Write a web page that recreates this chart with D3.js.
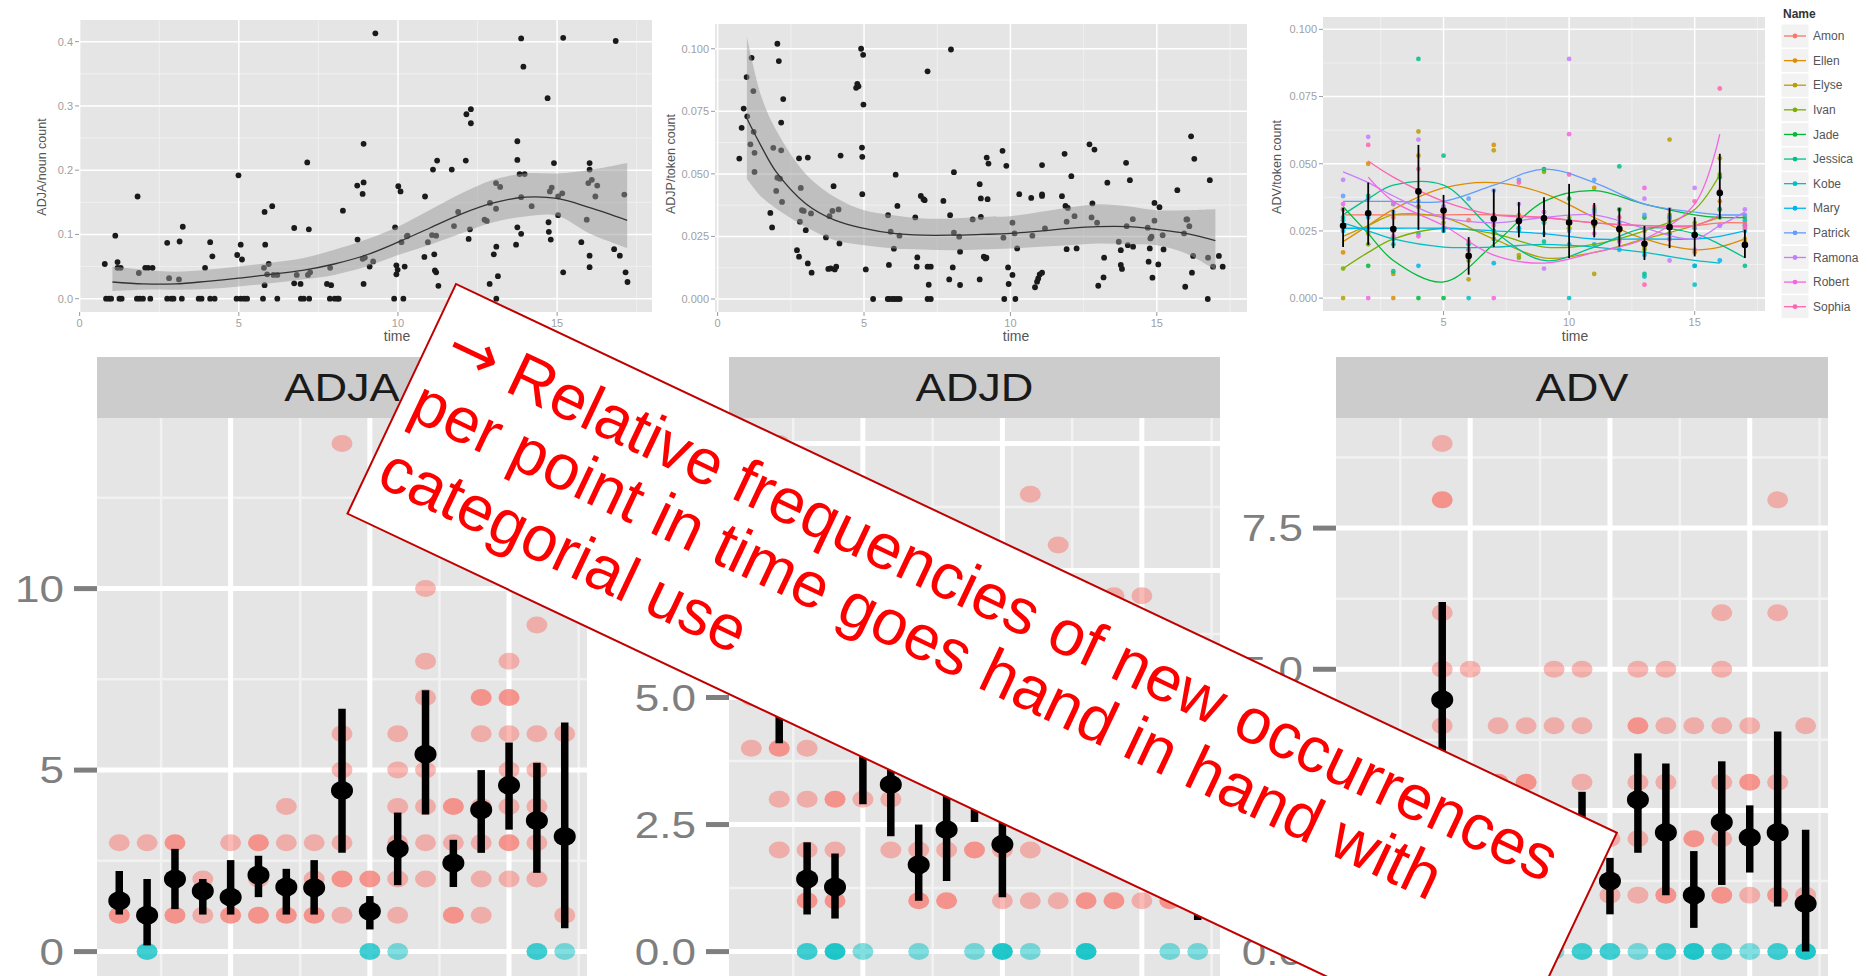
<!DOCTYPE html>
<html>
<head>
<meta charset="utf-8">
<script src="https://cdn.jsdelivr.net/npm/d3@7"></script>
<style>
  body { margin: 0; background: #fff; }
  svg { display: block; font-family: "Liberation Sans", Arial, Helvetica, sans-serif; }
</style>
</head>
<body>
<svg id="chart" width="1868" height="976"></svg>
<script>
// ---------- data: top-left, ADJA per noun over time ----------
const adjaNounPoints = [
  [0.79,0.054],[0.83,0],[0.92,0],[0.99,0],
  [1.12,0.098],[1.19,0.057],[1.19,0.048],[1.29,0.048],[1.25,0],[1.32,0],
  [1.82,0.159],[1.86,0.040],[1.80,0],[1.89,0],[1.99,0],[2.06,0.048],[2.15,0.048],[2.22,0],[2.29,0.048],
  [2.75,0.087],[2.81,0.032],[2.75,0],[2.88,0],[2.95,0],[3.14,0.089],[3.12,0.030],[3.24,0.112],[3.21,0],
  [3.74,0],[3.83,0],[3.94,0.048],[4.10,0.088],[4.17,0.066],[4.10,0],[4.24,0],
  [4.93,0],[4.99,0.192],[4.95,0.068],[5.06,0.084],[5.10,0.061],[5.06,0],[5.17,0],[5.26,0],
  [5.76,0],[5.81,0.135],[5.83,0.084],[5.79,0.048],[5.81,0.021],[5.89,0.038],[5.94,0.054],[6.05,0.144],[6.09,0.037],[6.21,0.037],[6.21,0],
  [6.74,0.110],[6.74,0.024],[6.82,0.037],[6.95,0],[6.94,0.023],[7.04,0],[7.15,0.212],[7.20,0.108],[7.17,0.037],[7.21,0],[7.24,0.041],
  [7.77,0.023],[7.86,0],[7.87,0.048],[7.90,0.021],[8.01,0],[8.10,0],[8.14,0],[8.27,0.137],
  [8.72,0.176],[8.73,0.092],[8.89,0.163],[8.92,0.181],[8.92,0.241],[8.89,0.062],[8.92,0.023],[8.96,0.064],[9.11,0.050],[9.22,0.058],[9.29,0.413],
  [9.88,0],[9.91,0.111],[9.95,0.038],[9.95,0.052],[9.99,0.045],[10.01,0.175],[10.08,0.167],[10.11,0.088],[10.17,0],[10.21,0.050],[10.28,0.097],[10.30,0.098],
  [10.85,0.159],[10.83,0.065],[10.94,0.088],[11.07,0.099],[11.10,0.201],[11.14,0.069],[11.16,0.044],[11.20,0.041],[11.23,0.215],[11.27,0.020],[11.20,0.098],
  [11.69,0.201],[11.76,0.113],[11.89,0.135],[12.13,0.215],[12.15,0.287],[12.22,0.093],[12.26,0.108],[12.29,0.295],[12.29,0.273],
  [12.72,0.123],[12.79,0.121],[12.88,0.023],[12.89,0.149],[13.01,0.069],[13.08,0.180],[13.08,0.140],[13.09,0],[13.09,0.081],[13.14,0.035],[13.21,0.174],
  [13.71,0.084],[13.75,0.245],[13.75,0.216],[13.75,0.111],[13.82,0.194],[13.87,0.405],[13.87,0.158],[13.87,0.101],[13.94,0.361],[13.98,0.194],[14.20,0.144],
  [14.70,0.312],[14.73,0.119],[14.74,0.104],[14.80,0.092],[14.77,0.167],[14.83,0.173],[14.90,0.211],[15.03,0.159],[15.03,0.130],[15.16,0.164],[15.19,0.041],[15.19,0.406],
  [15.76,0.088],[15.93,0.123],[15.98,0.180],[16.02,0.211],[16.02,0.201],[16.02,0.067],[16.02,0.049],[16.09,0.185],[16.20,0.159],[16.26,0.176],
  [16.79,0.077],[16.84,0.401],[16.97,0.067],[17.11,0.162],[17.15,0.041],[17.21,0.026]
];
const adjaSmoothT   = [1.03,2,3,4,5,6,7,8,9,10,11,12,13,14,15,16,17.2];
const adjaSmoothFit = [0.026,0.023,0.023,0.027,0.032,0.038,0.044,0.054,0.068,0.088,0.110,0.132,0.149,0.158,0.156,0.142,0.122];
const adjaSmoothHi  = [0.050,0.045,0.042,0.045,0.050,0.056,0.063,0.076,0.092,0.112,0.138,0.164,0.185,0.195,0.195,0.200,0.211];
const adjaSmoothLo  = [0.012,0.014,0.014,0.015,0.019,0.024,0.030,0.037,0.050,0.068,0.084,0.102,0.119,0.128,0.129,0.102,0.079];

// ---------- data: top-middle, ADJP per token ----------
const adjpTokenPoints = [
  [0.74,0.0561],[0.82,0.0684],[0.89,0.0761],[0.99,0.0887],[1.01,0.0730],[1.12,0.0618],[1.16,0.0964],[1.22,0.0831],[1.23,0.0668],[1.26,0.0508],[1.26,0.0584],
  [1.80,0.0344],[1.86,0.0286],[1.90,0.0604],[2.00,0.0432],[2.04,0.1020],[2.09,0.0951],[2.04,0.0485],[2.13,0.0481],[2.17,0.0705],[2.17,0.0594],[2.20,0.0388],[2.24,0.0799],
  [2.71,0.0195],[2.78,0.0169],[2.78,0.0562],[2.81,0.0309],[2.84,0.0444],[2.88,0.0355],[2.94,0.0352],[3.01,0.0275],[3.08,0.0565],[3.08,0.0142],[3.19,0.0342],[3.21,0.0105],
  [3.70,0.0246],[3.78,0.0120],[3.82,0.0331],[3.86,0.0122],[3.92,0.0352],[3.96,0.0451],[4.00,0.0118],[4.05,0.0129],[4.13,0.0358],[4.16,0.0222],[4.20,0.0573],
  [4.73,0.0844],[4.77,0.0860],[4.81,0.0850],[4.90,0.1000],[4.93,0.0605],[4.94,0.0568],[4.94,0.0419],[4.97,0.0976],[4.98,0.0777],[5.06,0.0118],
  [5.31,0],[5.81,0],[5.87,0],[5.97,0],[6.05,0],[6.14,0],[6.22,0],
  [5.82,0.0335],[5.85,0.0136],[5.91,0.0269],[6.02,0.0201],[6.08,0.0497],[6.14,0.0372],[6.21,0.0253],
  [6.75,0.0326],[6.82,0.0166],[6.80,0.0129],[6.94,0.0412],[7.03,0.0399],[7.07,0.0395],[7.17,0.0910],[7.17,0.0129],[7.21,0.0057],[7.28,0.0129],[7.17,0],[7.28,0],
  [7.71,0.0392],[7.91,0.0078],[7.94,0.0335],[7.97,0.0997],[8.03,0.0126],[8.07,0.0507],[8.07,0.0265],[8.25,0.0249],[8.28,0.0056],[8.28,0.0189],
  [8.71,0.0318],[8.95,0.0459],[8.95,0.0078],[8.99,0.0402],[8.99,0.0328],[9.09,0.0169],[9.15,0.0162],[9.18,0.0165],[9.19,0.0565],[9.22,0.0399],[9.25,0.0541],
  [9.73,0.0592],[9.86,0.0532],[9.76,0.0245],[9.79,0],[9.92,0.0126],[9.94,0.0060],[10.07,0.0096],[10.07,0.0305],[10.14,0.0262],[10.17,0],[10.23,0.0202],
  [10.30,0.0419],[10.71,0.0404],[10.75,0.0253],[10.84,0.0047],[10.91,0.0069],[10.95,0.0082],[11.00,0.0098],[11.08,0.0105],[11.08,0.0535],[11.08,0.0418],[11.08,0.0412],[11.18,0.0282],
  [11.76,0.0411],[11.85,0.0580],[11.88,0.0372],[11.92,0.0309],[11.92,0.0199],[11.96,0.0364],[12.08,0.0491],[12.19,0.0331],[12.26,0.0202],
  [12.70,0.0618],[12.77,0.0326],[12.80,0.0382],[12.87,0.0597],[12.96,0.0305],[13.00,0.0053],[13.18,0.0086],[13.20,0.0165],[13.31,0.0465],
  [13.70,0.0229],[13.77,0.0195],[13.77,0.0136],[13.81,0.0120],[13.95,0.0544],[13.97,0.0291],[14.01,0.0215],[14.08,0.0475],[14.18,0.0319],[14.19,0.0209],
  [14.69,0.0285],[14.72,0.0149],[14.76,0.0202],[14.78,0.0242],[14.85,0.0085],[14.82,0.0249],[14.92,0.0384],[14.92,0.0313],[15.05,0.0138],[15.09,0.0367],[15.20,0.0255],[15.23,0.0198],
  [15.70,0.0435],[15.93,0.0262],[15.97,0.0049],[16.01,0.0318],[16.04,0.0318],[16.11,0.0291],[16.17,0.0650],[16.20,0.0105],[16.24,0.0172],[16.28,0.0560],
  [16.74,0],[16.75,0.0165],[16.81,0.0475],[16.92,0.0129],[17.12,0.0172],[17.25,0.0129]
];
const adjpSmoothT   = [1,1.5,2,3,4,5,6,7,8,9,10,11,12,13,14,15,16,17];
const adjpSmoothFit = [0.0721,0.0608,0.0508,0.0382,0.0315,0.0282,0.0262,0.0255,0.0255,0.0258,0.0262,0.0271,0.0282,0.0289,0.0289,0.0278,0.0262,0.0233];
const adjpSmoothHi  = [0.1047,0.0807,0.0674,0.0501,0.0408,0.0355,0.0335,0.0322,0.0322,0.0328,0.0331,0.0348,0.0366,0.0379,0.0371,0.0355,0.0355,0.0359];
const adjpSmoothLo  = [0.0481,0.0408,0.0362,0.0289,0.0235,0.0215,0.0202,0.0198,0.0195,0.0198,0.0202,0.0209,0.0215,0.0222,0.0219,0.0215,0.0182,0.0116];

// ---------- data: top-right, ADV per token by child ----------
const timePoints = [1,2,3,4,5,6,7,8,9,10,11,12,13,14,15,16,17];
const childNames = ["Amon","Ellen","Elyse","Ivan","Jade","Jessica","Kobe","Mary","Patrick","Ramona","Robert","Sophia"];
const childColors = ["#F8766D","#DE8C00","#B79F00","#7CAE00","#00BA38","#00C08B","#00BFC4","#00B4F0","#619CFF","#C77CFF","#F564E3","#FF64B0"];
const advPointsByChild = [
  [0.027,0.031,0.030,0.034,0.031,0.029,0.031,0.030,0.030,0.028,0.027,0.027,0.025,0.029,0.027,0.033,0.028],
  [0.017,0.050,0.000,0.053,0.033,0.016,0.057,0.031,0.028,0.026,0.041,0.025,0.019,0.022,0.017,0.036,0.022],
  [0.000,0.024,0.009,0.062,0.028,0.007,0.055,0.016,0.029,0.030,0.009,0.022,0.020,0.059,0.026,0.052,0.021],
  [0.011,0.020,0.035,0.034,0.030,0.014,0.024,0.015,0.047,0.026,0.027,0.022,0.018,0.031,0.028,0.046,0.030],
  [0.033,0.012,0.025,0.000,0.000,0.018,0.025,0.030,0.048,0.037,0.028,0.033,0.030,0.030,0.024,0.045,0.027],
  [0.030,0.038,0.010,0.089,0.053,0.020,0.022,0.026,0.021,0.029,0.033,0.049,0.009,0.028,0.012,0.033,0.012],
  [0.029,0.026,0.020,0.024,0.025,0.000,0.030,0.025,0.028,0.000,0.032,0.027,0.008,0.024,0.005,0.030,0.029],
  [0.025,0.030,0.022,0.012,0.026,0.016,0.013,0.026,0.024,0.020,0.020,0.018,0.016,0.024,0.012,0.014,0.025],
  [0.038,0.037,0.032,0.036,0.034,0.037,0.040,0.044,0.032,0.025,0.044,0.028,0.031,0.030,0.026,0.027,0.031],
  [0.044,0.060,0.035,0.059,0.034,0.015,0.028,0.035,0.011,0.089,0.032,0.026,0.037,0.014,0.041,0.027,0.033],
  [0.035,0.000,0.023,0.023,0.030,0.018,0.000,0.028,0.032,0.061,0.024,0.021,0.041,0.022,0.018,0.040,0.027],
  [0.033,0.057,0.025,0.048,0.033,0.021,0.027,0.043,0.030,0.046,0.034,0.030,0.005,0.033,0.036,0.078,0.026]
];
const advSmoothT = [1,2,3,5,7,9,11,13,15,16,17];
const advSmoothByChild = [
  [0.031,0.031,0.031,0.031,0.031,0.030,0.028,0.027,0.027,0.028,0.028],
  [0.021,0.027,0.033,0.041,0.043,0.039,0.030,0.022,0.018,0.019,0.022],
  [0.023,0.027,0.031,0.030,0.022,0.015,0.017,0.022,0.027,0.030,null],
  [0.011,0.017,0.022,0.026,0.024,0.019,0.020,0.025,0.033,0.046,null],
  [0.034,0.024,0.014,0.006,0.020,0.036,0.040,0.035,0.031,0.030,0.030],
  [0.031,0.037,0.042,0.042,0.025,0.014,0.019,0.026,0.024,0.020,0.015],
  [0.028,0.025,0.022,0.019,0.019,0.020,0.019,0.017,0.014,0.013,null],
  [0.026,0.026,0.026,0.026,0.025,0.024,0.022,0.022,0.022,0.023,0.025],
  [0.036,0.036,0.036,0.036,0.042,0.048,0.043,0.035,0.032,0.031,0.031],
  [0.047,0.043,0.038,0.030,0.028,0.030,0.031,0.026,0.022,0.027,0.032],
  [null,0.045,0.036,0.027,0.016,0.013,0.017,0.022,0.035,0.061,null],
  [null,0.051,0.045,0.036,0.031,0.030,0.028,0.027,0.027,0.031,null]
];
const advMean = [0.0269,0.0316,0.0257,0.0397,0.0326,0.0157,0.0295,0.0287,0.0297,0.0281,0.0281,0.0257,0.0202,0.0264,0.0235,0.0391,0.0198];
const advLo   = [0.0190,0.0198,0.0186,0.0254,0.0244,0.0087,0.0190,0.0226,0.0227,0.0149,0.0226,0.0192,0.0142,0.0186,0.0155,0.0295,0.0149];
const advHi   = [0.0335,0.0430,0.0328,0.0570,0.0384,0.0227,0.0405,0.0357,0.0375,0.0425,0.0354,0.0335,0.0269,0.0335,0.0301,0.0537,0.0254];

// ---------- data: bottom facets, counts of new types per time point ----------
// [time, count, overlapping points]
const adjaDots = [
  [1,1,2],[1,3,1],[2,1,1],[2,3,1],[3,1,2],[3,3,2],[4,1,1],[4,2,1],[5,1,2],[5,3,1],
  [6,1,2],[6,2,1],[6,3,2],[7,1,2],[7,3,1],[7,4,1],[8,1,2],[8,2,1],[8,3,1],
  [9,1,1],[9,2,2],[9,3,1],[9,5,1],[9,6,1],[9,14,1],[10,2,2],
  [11,1,1],[11,2,1],[11,3,1],[11,4,1],[11,5,1],[11,6,1],
  [12,2,1],[12,3,1],[12,4,1],[12,5,1],[12,7,1],[12,8,1],[12,10,1],
  [13,1,2],[13,3,1],[13,4,2],
  [14,1,1],[14,2,1],[14,3,1],[14,4,1],[14,6,1],[14,7,2],
  [15,2,1],[15,3,2],[15,4,1],[15,5,1],[15,6,1],[15,7,2],[15,8,1],
  [16,2,1],[16,3,1],[16,4,1],[16,5,1],[16,6,1],[16,9,1],
  [17,1,1],[17,6,1]
];
const adjaZeros = [[2,2],[10,2],[11,1],[16,2],[17,1]];
const adjaMean = [1.40,1.00,2.00,1.67,1.50,2.11,1.78,1.76,4.44,1.11,2.83,5.44,2.44,3.91,4.58,3.61,3.17];
const adjaLo   = [1.02,0.17,1.17,1.02,1.02,1.50,1.02,1.02,2.72,0.61,1.83,3.78,1.78,2.72,3.36,2.17,0.64];
const adjaHi   = [2.22,2.00,2.83,2.00,2.52,2.64,2.28,2.52,6.69,1.53,3.83,7.20,3.08,5.00,5.76,5.20,6.31];

const adjdDots = [
  [1,4,1],[1,5,1],[2,2,1],[2,3,1],[2,4,2],[2,6,1],[2,10,1],
  [3,1,2],[3,2,1],[3,3,1],[3,4,1],[4,1,2],[4,2,1],[4,3,2],
  [5,3,1],[5,5,1],[5,6,1],[6,2,1],[6,3,1],[6,5,1],[7,1,2],[7,2,1],
  [8,1,2],[8,2,1],[8,4,1],[9,2,2],[9,4,1],[10,1,1],[10,2,1],
  [11,1,1],[11,2,1],[11,4,1],[11,9,1],[12,1,1],[12,3,1],[12,8,1],
  [13,1,2],[13,3,1],[14,1,2],[14,2,1],[14,7,1],[15,1,1],[15,3,1],[15,7,1],
  [16,1,2],[16,2,1],[17,1,1],[17,2,1]
];
const adjdZeros = [[3,2],[4,3],[5,1],[7,1],[9,1],[10,3],[11,1],[13,3],[16,1],[17,1]];
const adjdMean = [6.00,5.60,1.43,1.27,4.20,3.29,1.71,2.40,3.40,2.11,3.60,3.40,3.00,3.20,2.90,2.20,2.00];
const adjdLo   = [4.90,4.10,0.73,0.65,2.90,2.27,1.00,1.39,2.55,1.07,2.50,2.30,1.90,1.80,1.50,1.10,0.62];
const adjdHi   = [7.20,7.10,2.15,1.93,5.50,4.30,2.50,3.50,4.20,3.20,4.80,4.60,4.20,4.60,4.30,3.30,3.40];

const advDots = [
  [1,1,1],[1,2,1],[1,3,1],[2,1,2],[2,3,1],[3,1,1],[3,2,1],[3,3,1],
  [4,4,1],[4,5,1],[4,6,1],[4,8,2],[4,9,1],[5,2,1],[5,3,1],[5,5,1],
  [6,2,1],[6,3,2],[6,4,1],[7,3,2],[7,4,1],[8,2,1],[8,4,1],[8,5,1],
  [9,3,1],[9,4,1],[9,5,1],[10,1,1],[10,2,1],
  [11,1,1],[11,2,1],[11,3,1],[11,4,2],[11,5,1],[12,1,2],[12,3,1],[12,4,1],[12,5,1],
  [13,1,1],[13,2,2],[13,4,1],[14,1,2],[14,2,1],[14,3,1],[14,4,1],[14,5,1],[14,6,1],
  [15,1,1],[15,3,2],[15,4,1],[16,1,2],[16,3,1],[16,6,1],[16,8,1],[17,1,1],[17,4,1]
];
const advZeros = [[8,1],[9,2],[10,2],[11,1],[12,2],[13,3],[14,2],[15,1],[16,2],[17,3]];
const advCountMean = [2.00,1.80,2.00,4.46,2.40,2.20,2.10,1.90,1.90,1.25,2.69,2.11,1.00,2.29,2.02,2.11,0.85];
const advCountLo   = [1.30,1.00,1.20,2.70,1.60,1.40,1.40,1.10,1.00,0.66,1.75,1.00,0.42,1.18,1.40,0.80,0.00];
const advCountHi   = [2.80,2.60,2.80,6.19,3.20,3.00,2.80,2.60,2.83,1.66,3.51,3.33,1.78,3.37,2.59,3.90,2.16];

const noteLines = ["Relative frequencies of new occurrences", "per point in time goes hand in hand with", "categorial use"];

// ---------- drawing ----------
const svg = d3.select("#chart");
svg.append("rect").attr("width", 1868).attr("height", 976).attr("fill", "#fff");

function topPanel(c) {
  const x = d3.scaleLinear().domain(c.xDomain).range([c.left, c.right]);
  const y = d3.scaleLinear().domain(c.yDomain).range([c.bottom, c.top]);
  const g = svg.append("g");
  g.append("rect").attr("x", c.left).attr("y", c.top)
    .attr("width", c.right - c.left).attr("height", c.bottom - c.top).attr("fill", "#E5E5E5");

  g.selectAll(null).data(c.xMinor).join("line")
    .attr("x1", d => x(d)).attr("x2", d => x(d)).attr("y1", c.top).attr("y2", c.bottom)
    .attr("stroke", "#F2F2F2").attr("stroke-width", 0.8);
  g.selectAll(null).data(c.yMinor).join("line")
    .attr("x1", c.left).attr("x2", c.right).attr("y1", d => y(d)).attr("y2", d => y(d))
    .attr("stroke", "#F2F2F2").attr("stroke-width", 0.8);
  g.selectAll(null).data(c.xTicks).join("line")
    .attr("x1", d => x(d)).attr("x2", d => x(d)).attr("y1", c.top).attr("y2", c.bottom)
    .attr("stroke", "#fff").attr("stroke-width", 1.5);
  g.selectAll(null).data(c.yTicks).join("line")
    .attr("x1", c.left).attr("x2", c.right).attr("y1", d => y(d)).attr("y2", d => y(d))
    .attr("stroke", "#fff").attr("stroke-width", 1.5);

  // axes
  g.selectAll(null).data(c.yTicks).join("line")
    .attr("x1", c.left - 4).attr("x2", c.left).attr("y1", d => y(d)).attr("y2", d => y(d))
    .attr("stroke", "#9a9a9a").attr("stroke-width", 1);
  g.selectAll(null).data(c.yTicks).join("text")
    .attr("x", c.left - 6).attr("y", d => y(d)).attr("dy", "0.35em")
    .attr("text-anchor", "end").attr("font-size", 11).attr("fill", "#a0a0a0")
    .text(d => d3.format(c.yFormat)(d));
  g.selectAll(null).data(c.xTicks).join("line")
    .attr("x1", d => x(d)).attr("x2", d => x(d)).attr("y1", c.bottom).attr("y2", c.bottom + 4)
    .attr("stroke", "#9a9a9a").attr("stroke-width", 1);
  g.selectAll(null).data(c.xTicks).join("text")
    .attr("x", d => x(d)).attr("y", c.bottom + 15)
    .attr("text-anchor", "middle").attr("font-size", 11).attr("fill", "#a0a0a0")
    .text(d => d);
  g.append("text").attr("x", c.xTitleX).attr("y", 341).attr("text-anchor", "middle")
    .attr("font-size", 14).attr("fill", "#555").text("time");
  g.append("text").attr("transform", `translate(${c.yTitleX},${c.yTitleY}) rotate(-90)`)
    .attr("text-anchor", "middle").attr("font-size", 12.5).attr("fill", "#555").text(c.yTitle);
  return { g, x, y };
}

function smoothLayer(p, ts, fit, lo, hi) {
  const band = d3.area().x((d, i) => p.x(ts[i])).y0((d, i) => p.y(lo[i])).y1((d, i) => p.y(hi[i]))
    .curve(d3.curveCatmullRom);
  p.g.append("path").datum(fit).attr("d", band).attr("fill", "#999").attr("fill-opacity", 0.5);
  const line = d3.line().x((d, i) => p.x(ts[i])).y(d => p.y(d)).curve(d3.curveCatmullRom);
  p.g.append("path").datum(fit).attr("d", line).attr("fill", "none").attr("stroke", "#333").attr("stroke-width", 1.3);
}

// top-left
const pA = topPanel({
  left: 79, right: 652, top: 20, bottom: 312, xDomain: [-0.02, 17.98], yDomain: [-0.0207, 0.4337],
  xTicks: [0, 5, 10, 15], xMinor: [2.5, 7.5, 12.5, 17.5],
  yTicks: [0, 0.1, 0.2, 0.3, 0.4], yMinor: [0.05, 0.15, 0.25, 0.35], yFormat: ".1f",
  xTitleX: 397, yTitleX: 46, yTitleY: 167, yTitle: "ADJA/noun count"
});
pA.g.selectAll(null).data(adjaNounPoints).join("circle")
  .attr("cx", d => pA.x(d[0])).attr("cy", d => pA.y(d[1])).attr("r", 2.9).attr("fill", "#1a1a1a");
smoothLayer(pA, adjaSmoothT, adjaSmoothFit, adjaSmoothLo, adjaSmoothHi);

// top-middle
const pB = topPanel({
  left: 715, right: 1247, top: 24, bottom: 312, xDomain: [-0.09, 18.08], yDomain: [-0.0052, 0.1099],
  xTicks: [0, 5, 10, 15], xMinor: [2.5, 7.5, 12.5, 17.5],
  yTicks: [0, 0.025, 0.05, 0.075, 0.1], yMinor: [0.0125, 0.0375, 0.0625, 0.0875], yFormat: ".3f",
  xTitleX: 1016, yTitleX: 675, yTitleY: 164, yTitle: "ADJP/token count"
});
pB.g.selectAll(null).data(adjpTokenPoints).join("circle")
  .attr("cx", d => pB.x(d[0])).attr("cy", d => pB.y(d[1])).attr("r", 2.9).attr("fill", "#1a1a1a");
smoothLayer(pB, adjpSmoothT, adjpSmoothFit, adjpSmoothLo, adjpSmoothHi);

// top-right
const pC = topPanel({
  left: 1323, right: 1765, top: 17, bottom: 311, xDomain: [0.2, 17.8], yDomain: [-0.0048, 0.1046],
  xTicks: [5, 10, 15], xMinor: [2.5, 7.5, 12.5, 17.5],
  yTicks: [0, 0.025, 0.05, 0.075, 0.1], yMinor: [0.0125, 0.0375, 0.0625, 0.0875], yFormat: ".3f",
  xTitleX: 1575, yTitleX: 1281, yTitleY: 167, yTitle: "ADV/token count"
});
childNames.forEach((name, k) => {
  const pts = timePoints.map((t, i) => [t, advPointsByChild[k][i]]);
  pC.g.selectAll(null).data(pts).join("circle")
    .attr("cx", d => pC.x(d[0])).attr("cy", d => pC.y(d[1])).attr("r", 2.4)
    .attr("fill", childColors[k]).attr("fill-opacity", 0.85);
});
childNames.forEach((name, k) => {
  const seg = advSmoothT.map((t, i) => [t, advSmoothByChild[k][i]]).filter(d => d[1] !== null);
  const line = d3.line().x(d => pC.x(d[0])).y(d => pC.y(d[1])).curve(d3.curveCatmullRom);
  pC.g.append("path").datum(seg).attr("d", line).attr("fill", "none")
    .attr("stroke", childColors[k]).attr("stroke-width", 1.3);
});
pC.g.selectAll(null).data(timePoints).join("line")
  .attr("x1", d => pC.x(d)).attr("x2", d => pC.x(d))
  .attr("y1", (d, i) => pC.y(advLo[i])).attr("y2", (d, i) => pC.y(advHi[i]))
  .attr("stroke", "#000").attr("stroke-width", 1.8);
pC.g.selectAll(null).data(timePoints).join("circle")
  .attr("cx", d => pC.x(d)).attr("cy", (d, i) => pC.y(advMean[i])).attr("r", 3.3).attr("fill", "#000");

// legend
const leg = svg.append("g");
leg.append("text").attr("x", 1783).attr("y", 18).attr("font-size", 12).attr("font-weight", "bold")
  .attr("fill", "#333").text("Name");
const legY = d3.scalePoint().domain(childNames).range([36, 306.7]);
childNames.forEach((name, k) => {
  const cy = legY(name);
  leg.append("rect").attr("x", 1781).attr("y", cy - 12).attr("width", 28).attr("height", 24)
    .attr("fill", "#F2F2F2").attr("stroke", "#fff").attr("stroke-width", 1);
  leg.append("line").attr("x1", 1784).attr("x2", 1806).attr("y1", cy).attr("y2", cy)
    .attr("stroke", childColors[k]).attr("stroke-width", 1.3);
  leg.append("circle").attr("cx", 1795).attr("cy", cy).attr("r", 2.4).attr("fill", childColors[k]);
  leg.append("text").attr("x", 1813).attr("y", cy).attr("dy", "0.35em").attr("font-size", 12)
    .attr("fill", "#555").text(name);
});

// bottom facets
function facet(c) {
  const x = d3.scaleLinear().domain([0.2, 17.8]).range([c.left, c.right]);
  const y = d3.scaleLinear().domain(c.yDomain).range([977, 418]);
  const g = svg.append("g");
  const stretch = 1.19;

  g.append("rect").attr("x", c.left).attr("y", 357).attr("width", c.right - c.left).attr("height", 61)
    .attr("fill", "#CCCCCC");
  g.append("text").attr("transform", `translate(${(c.left + c.right) / 2},401) scale(${stretch},1)`)
    .attr("text-anchor", "middle").attr("font-size", 38).attr("fill", "#1a1a1a").text(c.title);

  g.append("rect").attr("x", c.left).attr("y", 418).attr("width", c.right - c.left).attr("height", 560)
    .attr("fill", "#E5E5E5");
  const xMinor = [2.5, 7.5, 12.5, 17.5], xMajor = [5, 10, 15];
  g.selectAll(null).data(xMinor).join("line")
    .attr("x1", d => x(d)).attr("x2", d => x(d)).attr("y1", 418).attr("y2", 977)
    .attr("stroke", "#F2F2F2").attr("stroke-width", 2.5);
  g.selectAll(null).data(c.yMinor).join("line")
    .attr("x1", c.left).attr("x2", c.right).attr("y1", d => y(d)).attr("y2", d => y(d))
    .attr("stroke", "#F2F2F2").attr("stroke-width", 2.5);
  g.selectAll(null).data(xMajor).join("line")
    .attr("x1", d => x(d)).attr("x2", d => x(d)).attr("y1", 418).attr("y2", 977)
    .attr("stroke", "#fff").attr("stroke-width", 5);
  g.selectAll(null).data(c.yTicks).join("line")
    .attr("x1", c.left).attr("x2", c.right).attr("y1", d => y(d)).attr("y2", d => y(d))
    .attr("stroke", "#fff").attr("stroke-width", 5);

  g.selectAll(null).data(c.yTicks).join("line")
    .attr("x1", c.left - 23).attr("x2", c.left).attr("y1", d => y(d)).attr("y2", d => y(d))
    .attr("stroke", "#7f7f7f").attr("stroke-width", 5);
  g.selectAll(null).data(c.yTicks).join("text")
    .attr("transform", d => `translate(${c.left - 33},${y(d)}) scale(${stretch},1)`)
    .attr("dy", "0.36em").attr("text-anchor", "end").attr("font-size", 37).attr("fill", "#7f7f7f")
    .text(d => d3.format(c.yFormat)(d));

  const alpha = n => 1 - Math.pow(0.5, n);
  g.selectAll(null).data(c.dots).join("ellipse")
    .attr("cx", d => x(d[0])).attr("cy", d => y(d[1])).attr("rx", 10.5).attr("ry", 8.5)
    .attr("fill", "#F8766D").attr("fill-opacity", d => alpha(d[2]));
  g.selectAll(null).data(c.zeros).join("ellipse")
    .attr("cx", d => x(d[0])).attr("cy", y(0)).attr("rx", 10.5).attr("ry", 8.5)
    .attr("fill", "#00BFC4").attr("fill-opacity", d => alpha(d[1]));

  g.selectAll(null).data(timePoints).join("line")
    .attr("x1", d => x(d)).attr("x2", d => x(d))
    .attr("y1", (d, i) => y(c.lo[i])).attr("y2", (d, i) => y(c.hi[i]))
    .attr("stroke", "#000").attr("stroke-width", 7.5);
  g.selectAll(null).data(timePoints).join("ellipse")
    .attr("cx", d => x(d)).attr("cy", (d, i) => y(c.mean[i])).attr("rx", 11).attr("ry", 9.5)
    .attr("fill", "#000");
}

facet({ title: "ADJA", left: 97, right: 587, yDomain: [-0.7, 14.7], yTicks: [0, 5, 10], yMinor: [2.5, 7.5, 12.5],
  yFormat: "d", dots: adjaDots, zeros: adjaZeros, mean: adjaMean, lo: adjaLo, hi: adjaHi });
facet({ title: "ADJD", left: 729, right: 1220, yDomain: [-0.5, 10.5], yTicks: [0, 2.5, 5, 7.5, 10], yMinor: [1.25, 3.75, 6.25, 8.75],
  yFormat: ".1f", dots: adjdDots, zeros: adjdZeros, mean: adjdMean, lo: adjdLo, hi: adjdHi });
facet({ title: "ADV", left: 1336, right: 1828, yDomain: [-0.45, 9.45], yTicks: [0, 2.5, 5, 7.5], yMinor: [1.25, 3.75, 6.25, 8.75],
  yFormat: ".1f", dots: advDots, zeros: advZeros, mean: advCountMean, lo: advCountLo, hi: advCountHi });

// rotated annotation
const note = svg.append("g").attr("transform", "translate(456,284) rotate(25.3)");
note.append("rect").attr("x", 0).attr("y", 0).attr("width", 1284).attr("height", 254)
  .attr("fill", "#fff").attr("stroke", "#C00000").attr("stroke-width", 2);
note.append("text").attr("x", 20).attr("y", 75).attr("font-family", "'DejaVu Sans', sans-serif")
  .attr("font-size", 62).attr("fill", "#FF0000").text("\u2192");
const noteX = [88, 12, 12], noteY = [76, 142, 216];
note.selectAll(null).data(noteLines).join("text")
  .attr("x", (d, i) => noteX[i]).attr("y", (d, i) => noteY[i])
  .attr("font-size", 64).attr("fill", "#FF0000").text(d => d);
</script>
</body>
</html>
